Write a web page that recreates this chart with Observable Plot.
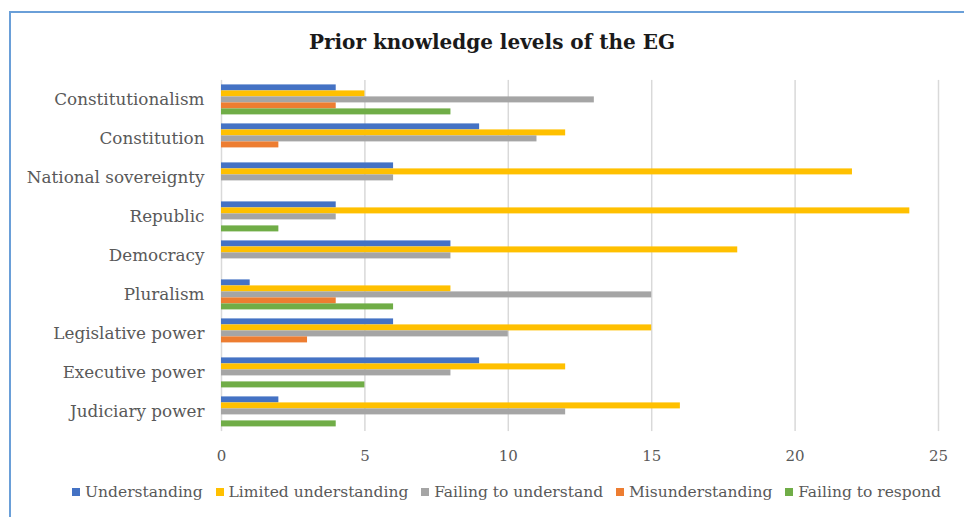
<!DOCTYPE html>
<html>
<head>
<meta charset="utf-8">
<script src="https://cdn.jsdelivr.net/npm/d3@7"></script>
<script src="https://cdn.jsdelivr.net/npm/@observablehq/plot@0.6"></script>
<style>
  html, body { margin: 0; padding: 0; background: #fff; }
  #wrap { position: relative; width: 964px; height: 517px; overflow: hidden; background: #fff; font-family: "DejaVu Serif", serif; }
  #frame { position: absolute; left: 9px; top: 11px; width: 1000px; height: 600px; border-left: 2px solid #6a9fd8; border-top: 2px solid #6a9fd8; box-sizing: border-box; }
  #title { position: absolute; left: 10px; top: 29px; width: 964px; text-align: center; font-weight: bold; font-size: 20px; color: #1a1a1a; line-height: 26px; }
  #plot { position: absolute; left: 0; top: 70px; }
  #legend { position: absolute; left: 72px; top: 483px; width: 869px; display: flex; justify-content: space-between; align-items: center; font-size: 15.5px; color: #595959; white-space: nowrap; line-height: 18px; }
  #legend .item { display: flex; align-items: center; gap: 5px; }
  #legend .sw { width: 8px; height: 8px; display: inline-block; }
</style>
</head>
<body>
<div id="wrap">
  <div id="frame"></div>
  <div id="title">Prior knowledge levels of the EG</div>
  <div id="plot"></div>
  <div id="legend"></div>
</div>
<script>
const categories = ["Constitutionalism", "Constitution", "National sovereignty", "Republic", "Democracy", "Pluralism", "Legislative power", "Executive power", "Judiciary power"];
const series = ["Understanding", "Limited understanding", "Failing to understand", "Misunderstanding", "Failing to respond"];
const colors = ["#4472C4", "#FFC000", "#A5A5A5", "#ED7D31", "#70AD47"];
const understanding       = [4, 9, 6, 4, 8, 1, 6, 9, 2];
const limitedUnderstanding = [5, 12, 22, 24, 18, 8, 15, 12, 16];
const failingToUnderstand = [13, 11, 6, 4, 8, 15, 10, 8, 12];
const misunderstanding    = [4, 2, 0, 0, 0, 4, 3, 0, 0];
const failingToRespond    = [8, 0, 0, 2, 0, 6, 0, 5, 4];
const xTicks = [0, 5, 10, 15, 20, 25];

const seriesValues = [understanding, limitedUnderstanding, failingToUnderstand, misunderstanding, failingToRespond];
const data = categories.flatMap((c, i) => series.map((s, j) => ({category: c, series: s, value: seriesValues[j][i]})));

const chart = Plot.plot({
  width: 964,
  height: 420,
  marginLeft: 221,
  marginRight: 26,
  marginTop: 8.6,
  marginBottom: 56.8,
  style: {fontFamily: "DejaVu Serif", background: "transparent", overflow: "visible"},
  x: {domain: [0, 25], ticks: xTicks, label: null},
  y: {domain: series, padding: 0, axis: null},
  fy: {domain: categories, paddingInner: 0.155, paddingOuter: 0.0775, label: null},
  color: {domain: series, range: colors},
  marks: [
    Plot.ruleX(xTicks, {stroke: "#d9d9d9", strokeWidth: 1.5, insetTop: -3.1, insetBottom: -3.1}),
    Plot.barX(data, {x: "value", y: "series", fy: "category", fill: "series"}),
    Plot.axisX({ticks: xTicks, tickSize: 0, tickPadding: 22, fontSize: 15, fill: "#595959", label: null}),
    Plot.axisFy({anchor: "left", tickSize: 0, tickPadding: 17, fontSize: 16.8, fill: "#595959", label: null})
  ]
});
document.getElementById("plot").appendChild(chart);

const legend = document.getElementById("legend");
series.forEach((s, j) => {
  const item = document.createElement("div");
  item.className = "item";
  const sw = document.createElement("span");
  sw.className = "sw";
  sw.style.background = colors[j];
  const t = document.createElement("span");
  t.textContent = s;
  item.appendChild(sw);
  item.appendChild(t);
  legend.appendChild(item);
});
</script>
</body>
</html>
